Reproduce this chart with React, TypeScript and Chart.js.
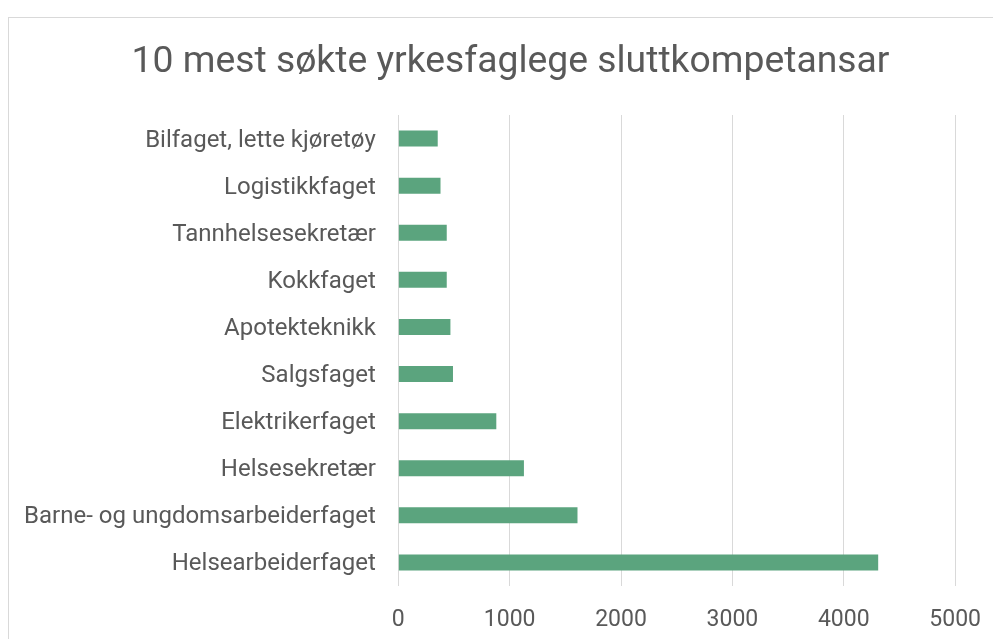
import React, { useEffect, useRef } from "react";
import { Chart, registerables } from "chart.js";

Chart.register(...registerables);

const titleText = "10 mest søkte yrkesfaglege sluttkompetansar";

const categories = [
  "Bilfaget, lette kjøretøy",
  "Logistikkfaget",
  "Tannhelsesekretær",
  "Kokkfaget",
  "Apotekteknikk",
  "Salgsfaget",
  "Elektrikerfaget",
  "Helsesekretær",
  "Barne- og ungdomsarbeiderfaget",
  "Helsearbeiderfaget",
];

const values = [354, 379, 435, 435, 468, 491, 880, 1128, 1609, 4309];

const xTicks = [0, 1000, 2000, 3000, 4000, 5000];

const TEXT = "#595959";
const GRID = "#d9d9d9";
const BAR = "#5ba47e";

// Title drawn centred on the whole card (not only the chart's layout box)
const cardTitle = {
  id: "cardTitle",
  afterDraw(chart: any) {
    const ctx = chart.ctx;
    ctx.save();
    ctx.fillStyle = TEXT;
    ctx.font = "normal 37.3px Roboto";
    ctx.textAlign = "center";
    ctx.textBaseline = "middle";
    ctx.fillText(titleText, 501.5, 44.4);
    ctx.restore();
  },
};

export default function App() {
  const ref = useRef<HTMLCanvasElement | null>(null);

  useEffect(() => {
    document.body.style.overflow = "hidden";
    const canvas = ref.current;
    if (!canvas) return;
    const chart = new Chart(canvas, {
      type: "bar",
      data: {
        labels: categories,
        datasets: [
          {
            data: values,
            backgroundColor: BAR,
            borderWidth: 0,
            barPercentage: 0.34,
            categoryPercentage: 1,
          },
        ],
      },
      plugins: [cardTitle],
      options: {
        indexAxis: "y",
        responsive: false,
        animation: false,
        layout: { padding: { left: 0, right: 42.7, top: 97, bottom: 13 } },
        plugins: {
          legend: { display: false },
          tooltip: { enabled: false },
          title: { display: false },
        },
        scales: {
          x: {
            min: 0,
            max: 5000,
            afterBuildTicks: (scale: any) => {
              scale.ticks = xTicks.map((v) => ({ value: v }));
            },
            afterFit: (scale: any) => {
              scale.height = 40;
            },
            grid: { color: GRID, lineWidth: 1, drawTicks: false },
            border: { display: false },
            ticks: {
              color: TEXT,
              font: { family: "Roboto", size: 23 },
              padding: 20,
              maxRotation: 0,
              callback: (v: any) => String(v),
            },
          },
          y: {
            afterFit: (scale: any) => {
              scale.width = 389.3;
            },
            grid: { display: false, drawTicks: false },
            border: { display: false },
            ticks: {
              color: TEXT,
              font: { family: "Roboto", size: 24 },
              padding: 22.5,
              labelOffset: 2,
              autoSkip: false,
            },
          },
        },
      },
    });
    return () => chart.destroy();
  }, []);

  return (
    <div
      style={{
        width: 993,
        height: 631,
        paddingTop: 9,
        boxSizing: "border-box",
        overflow: "hidden",
      }}
    >
      <div
        style={{
          width: 1000,
          height: 640,
          border: "1px solid #d9d9d9",
          boxSizing: "border-box",
        }}
      >
        <canvas
          ref={ref}
          width={992}
          height={621}
          style={{ display: "block", width: 992, height: 621 }}
        />
      </div>
    </div>
  );
}
